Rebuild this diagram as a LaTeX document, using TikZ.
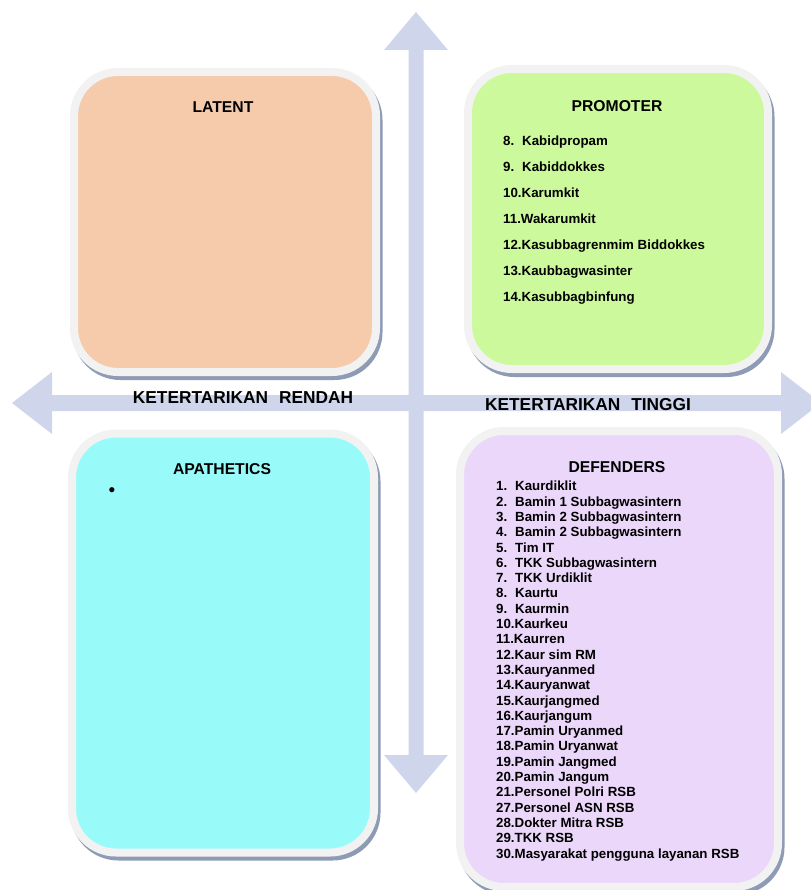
\documentclass[tikz,border=0pt]{standalone}
\usepackage{fontspec}
\setmainfont{Liberation Sans}
\usetikzlibrary{positioning}
\definecolor{axisblue}{RGB}{207,213,234}
\definecolor{rimgrey}{RGB}{242,242,242}
\definecolor{shadeblue}{RGB}{142,155,181}
\definecolor{latentfill}{RGB}{246,203,172}
\definecolor{promofill}{RGB}{203,249,155}
\definecolor{apathfill}{RGB}{153,250,250}
\definecolor{defendfill}{RGB}{235,215,249}
\newcommand{\itemno}[1]{\makebox[19pt][l]{#1}}

\begin{document}
\begin{tikzpicture}[x=1pt,y=-1pt,
    quad/.style={rounded corners=44pt, draw=rimgrey, line width=8pt, inner sep=0pt,
      preaction={draw=shadeblue, line width=8pt, transform canvas={shift={(2.5pt,-4pt)}}}},
    title/.style={font=\fontsize{15.7}{18}\selectfont\bfseries, inner sep=0pt},
    axislabel/.style={font=\fontsize{17.3}{20}\selectfont\bfseries, inner sep=0pt},
    itemlist/.style={align=left, inner sep=0pt, anchor=north west}]
    \useasboundingbox (0,0) rectangle (810,890);

    % sumbu
    \coordinate (O) at (416,403);
    \fill[axisblue] (408.5,50) -- (384,50) -- (416,12) -- (448,50) -- (423.5,50)
        -- (423.5,755) -- (448,755) -- (416,793) -- (384,755) -- (408.5,755) -- cycle;
    \fill[axisblue] (52,395) -- (52,372) -- (12,403) -- (52,434) -- (52,411)
        -- (781,411) -- (781,434) -- (821,403) -- (781,372) -- (781,395) -- cycle;

    % kuadran
    \node[quad, fill=latentfill, minimum width=302pt, minimum height=300pt] (latent) at (225,222) {};
    \node[quad, fill=promofill, minimum width=300pt, minimum height=300pt] (promoter) at (618,219) {};
    \node[quad, fill=apathfill, minimum width=302pt, minimum height=419pt] (apathetics) at (223,643) {};
    \node[quad, fill=defendfill, minimum width=318pt, minimum height=456pt] (defenders) at (619,659) {};

    % judul
    \node[title] (latentT) at (223,107) {LATENT};
    \node[title] (promoterT) at (617,106) {PROMOTER};
    \node[title] (apatheticsT) at (222,469) {APATHETICS};
    \node[title] (defendersT) at (617,467) {DEFENDERS};

    % label sumbu
    \node[axislabel] (rendah) at (243,398) {KETERTARIKAN\hspace{11pt}RENDAH};
    \node[axislabel] (tinggi) at (588,405) {KETERTARIKAN\hspace{11pt}TINGGI};

    % isi
    \node[itemlist, font=\fontsize{13.3}{26}\selectfont\bfseries] (promoList) at (503,136) {%
        \itemno{8.}Kabidpropam\\
        \itemno{9.}Kabiddokkes\\
        10.Karumkit\\
        11.Wakarumkit\\
        12.Kasubbagrenmim Biddokkes\\
        13.Kaubbagwasinter\\
        14.Kasubbagbinfung};

    \node[font=\fontsize{19}{20}\selectfont, inner sep=0pt] (bullet) at (112,492) {•};

    \node[itemlist, font=\fontsize{13.3}{15.3}\selectfont\bfseries] (defendList) at (496,481) {%
        \itemno{1.}Kaurdiklit\\
        \itemno{2.}Bamin 1 Subbagwasintern\\
        \itemno{3.}Bamin 2 Subbagwasintern\\
        \itemno{4.}Bamin 2 Subbagwasintern\\
        \itemno{5.}Tim IT\\
        \itemno{6.}TKK Subbagwasintern\\
        \itemno{7.}TKK Urdiklit\\
        \itemno{8.}Kaurtu\\
        \itemno{9.}Kaurmin\\
        10.Kaurkeu\\
        11.Kaurren\\
        12.Kaur sim RM\\
        13.Kauryanmed\\
        14.Kauryanwat\\
        15.Kaurjangmed\\
        16.Kaurjangum\\
        17.Pamin Uryanmed\\
        18.Pamin Uryanwat\\
        19.Pamin Jangmed\\
        20.Pamin Jangum\\
        21.Personel Polri RSB\\
        27.Personel ASN RSB\\
        28.Dokter Mitra RSB\\
        29.TKK RSB\\
        30.Masyarakat pengguna layanan RSB};
\end{tikzpicture}
\end{document}
